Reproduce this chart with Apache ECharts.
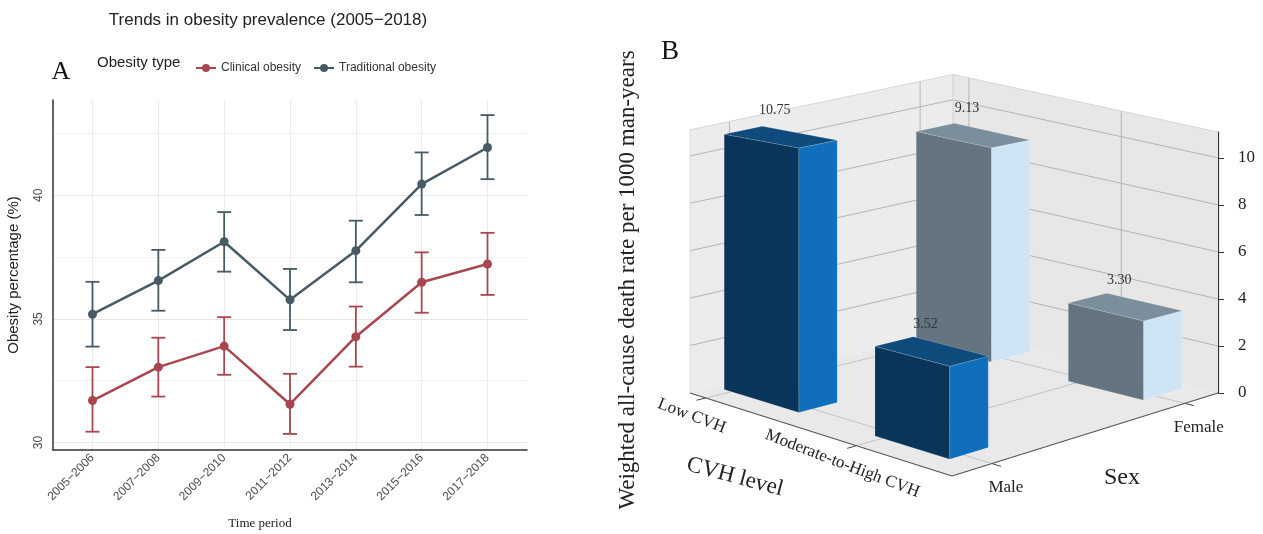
<!DOCTYPE html>
<html>
<head>
<meta charset="utf-8">
<script src="https://cdn.jsdelivr.net/npm/echarts@6/dist/echarts.min.js"></script>
<style>
  html, body { margin: 0; padding: 0; background: #fff; }
  #main { width: 1263px; height: 534px; }
</style>
</head>
<body>
<div id="main"></div>
<script>
// panel A data
var periods = ['2005−2006', '2007−2008', '2009−2010', '2011−2012', '2013−2014', '2015−2016', '2017−2018'];
var clinical = [31.70, 33.05, 33.90, 31.55, 34.28, 36.48, 37.22];
var clinicalLow = [30.44, 31.86, 32.74, 30.35, 33.07, 35.25, 35.97];
var clinicalHigh = [33.05, 34.24, 35.07, 32.78, 35.50, 37.69, 38.48];
var traditional = [35.19, 36.55, 38.12, 35.77, 37.76, 40.45, 41.93];
var traditionalLow = [33.88, 35.33, 36.91, 34.55, 36.48, 39.20, 40.65];
var traditionalHigh = [36.50, 37.79, 39.32, 37.02, 38.97, 41.73, 43.24];
var yTicksA = [30, 35, 40];
var yGridA = [30, 32.5, 35, 37.5, 40, 42.5];

// panel B data
var cvhLevels = ['Low CVH', 'Moderate-to-High CVH'];
var sexes = ['Male', 'Female'];
var deathMale = [10.75, 3.52];
var deathFemale = [9.13, 3.30];
var zTicks = [0, 2, 4, 6, 8, 10];

var chartDom = document.getElementById('main');
var myChart = echarts.init(chartDom);
var option;

var SANS = 'Liberation Sans';
var SERIF = 'Liberation Serif';
var clinicalColor = '#a8474f';
var traditionalColor = '#475b66';

function toPoints(values) {
  return values.map(function (v, i) { return [i, v]; });
}
function toRanges(low, high) {
  return low.map(function (v, i) { return [i, v, high[i]]; });
}

function renderErrorBar(color) {
  return function (params, api) {
    var top = api.coord([api.value(0), api.value(2)]);
    var bottom = api.coord([api.value(0), api.value(1)]);
    var cap = 7;
    var style = { stroke: color, lineWidth: 1.8 };
    return {
      type: 'group',
      children: [
        { type: 'line', shape: { x1: top[0], y1: top[1], x2: bottom[0], y2: bottom[1] }, style: style },
        { type: 'line', shape: { x1: top[0] - cap, y1: top[1], x2: top[0] + cap, y2: top[1] }, style: style },
        { type: 'line', shape: { x1: bottom[0] - cap, y1: bottom[1], x2: bottom[0] + cap, y2: bottom[1] }, style: style }
      ]
    };
  };
}

// fake 3d box for panel B: floor corners in px relative to the z axis origin
var FLOOR = { L: [-528, 0], F: [-266, 83], R: [0, 0], B: [-265, -63] };
var DEPTH_SCALE = { L: 1.0085, F: 1.151, R: 1, B: 0.979 };
var WALL_TOP = 11.1;
var C_TICK0 = 0.12, C_TICK_STEP = 1.15, S_TICK0 = 0.3, S_TICK_STEP = 1.45;
var C_BAR0 = 0.35, C_BAR_STEP = 1.15, S_BAR0 = 0.34, S_BAR_STEP = 1.46;
var BAR_W = 0.57, BAR_D = 0.29;

function makeProjector(api) {
  var origin = api.coord([1, 0]);
  var unit = origin[1] - api.coord([1, 1])[1];
  return function (c, s, v) {
    var u = c / 2, w = s / 2;
    var wL = (1 - u) * (1 - w), wF = u * (1 - w), wR = u * w, wB = (1 - u) * w;
    var x = wL * FLOOR.L[0] + wF * FLOOR.F[0] + wR * FLOOR.R[0] + wB * FLOOR.B[0];
    var y = wL * FLOOR.L[1] + wF * FLOOR.F[1] + wR * FLOOR.R[1] + wB * FLOOR.B[1];
    var k = wL * DEPTH_SCALE.L + wF * DEPTH_SCALE.F + wR * DEPTH_SCALE.R + wB * DEPTH_SCALE.B;
    return [origin[0] + x, origin[1] + y - v * unit * k];
  };
}

function line(p, q, color, width) {
  return { type: 'line', shape: { x1: p[0], y1: p[1], x2: q[0], y2: q[1] }, style: { stroke: color, lineWidth: width || 1 } };
}
function poly(points, fill, stroke) {
  return { type: 'polygon', shape: { points: points }, style: { fill: fill, stroke: stroke || null, lineWidth: 0.6 } };
}

function renderScene(params, api) {
  var P = makeProjector(api);
  var kids = [];
  var gridColor = '#b4b4b4';
  kids.push(poly([P(0, 0, 0), P(2, 0, 0), P(2, 2, 0), P(0, 2, 0)], '#e9e9e9'));
  kids.push(poly([P(0, 0, 0), P(0, 2, 0), P(0, 2, WALL_TOP), P(0, 0, WALL_TOP)], '#ececec'));
  kids.push(poly([P(0, 2, 0), P(2, 2, 0), P(2, 2, WALL_TOP), P(0, 2, WALL_TOP)], '#e7e7e7'));
  zTicks.forEach(function (v) {
    if (v === 0) return;
    kids.push(line(P(0, 0, v), P(0, 2, v), gridColor));
    kids.push(line(P(0, 2, v), P(2, 2, v), gridColor));
  });
  cvhLevels.forEach(function (name, i) {
    var c = C_TICK0 + i * C_TICK_STEP;
    kids.push(line(P(c, 2, 0), P(c, 2, WALL_TOP), gridColor));
    kids.push(line(P(c, 0, 0), P(c, 2, 0), '#c4c4c4'));
    kids.push(line(P(c, 0, 0), P(c, -0.07, 0), '#444', 1));
    var t = P(c, 0, 0);
    kids.push({
      type: 'text', x: t[0] - 14, y: t[1] + 18, rotation: -21 * Math.PI / 180,
      style: { text: name, fill: '#222', font: '17px "' + SERIF + '"', align: 'center', verticalAlign: 'middle' }
    });
  });
  sexes.forEach(function (name, j) {
    var s = S_TICK0 + j * S_TICK_STEP;
    kids.push(line(P(0, s, 0), P(0, s, WALL_TOP), gridColor));
    kids.push(line(P(0, s, 0), P(2, s, 0), '#c4c4c4'));
    kids.push(line(P(2, s, 0), P(2.07, s, 0), '#444', 1));
    var t = P(2, s, 0);
    kids.push({
      type: 'text', x: t[0] + 14, y: t[1] + 24,
      style: { text: name, fill: '#222', font: '17px "' + SERIF + '"', align: 'center', verticalAlign: 'middle' }
    });
  });
  kids.push(line(P(0, 0, WALL_TOP), P(0, 2, WALL_TOP), '#d6d6d6'));
  kids.push(line(P(0, 2, WALL_TOP), P(2, 2, WALL_TOP), '#d6d6d6'));
  kids.push(line(P(0, 2, 0), P(0, 2, WALL_TOP), '#d0d0d0'));
  kids.push(line(P(0, 0, 0), P(0, 0, WALL_TOP), '#dedede'));
  kids.push(line(P(0, 0, 0), P(2, 0, 0), '#555', 1.2));
  kids.push(line(P(2, 0, 0), P(2, 2, 0), '#555', 1.2));
  return { type: 'group', children: kids };
}

var barColors = [
  { front: '#0a355a', side: '#106fbd', top: '#0e4a7c' },
  { front: '#647581', side: '#cfe5f6', top: '#7b8e9b' }
];

function renderBar(params, api) {
  var P = makeProjector(api);
  var ci = api.value(0), si = api.value(1), v = api.value(2);
  var cc = C_BAR0 + ci * C_BAR_STEP, sc = S_BAR0 + si * S_BAR_STEP;
  var c0 = cc - BAR_W / 2, c1 = cc + BAR_W / 2, s0 = sc - BAR_D / 2, s1 = sc + BAR_D / 2;
  var col = barColors[si];
  var edge = 'rgba(255,255,255,0.25)';
  var lab = P(cc, sc, v);
  return {
    type: 'group',
    children: [
      poly([P(c0, s0, 0), P(c1, s0, 0), P(c1, s0, v), P(c0, s0, v)], col.front, edge),
      poly([P(c1, s0, 0), P(c1, s1, 0), P(c1, s1, v), P(c1, s0, v)], col.side, edge),
      poly([P(c0, s0, v), P(c1, s0, v), P(c1, s1, v), P(c0, s1, v)], col.top, edge),
      {
        type: 'text', x: lab[0] - 6, y: lab[1] - 27, z2: 100,
        style: { text: v.toFixed(2), fill: '#333', font: '14px "' + SERIF + '"', align: 'center', verticalAlign: 'middle' }
      }
    ]
  };
}

// back bars first so the front ones cover them
var barData = [];
[deathFemale, deathMale].forEach(function (values) {
  var si = values === deathMale ? 0 : 1;
  values.forEach(function (v, ci) { barData.push([ci, si, v]); });
});

option = {
  animation: false,
  backgroundColor: '#fff',
  legend: {
    data: ['Clinical obesity', 'Traditional obesity'],
    left: 190,
    top: 57,
    itemWidth: 20,
    itemHeight: 10,
    itemGap: 12,
    textStyle: { fontFamily: SANS, fontSize: 12, color: '#333' }
  },
  grid: [
    { left: 53, right: 736, top: 100, bottom: 84 },
    { left: 690, right: 45, top: 132, bottom: 141 }
  ],
  xAxis: [
    {
      type: 'value', gridIndex: 0, min: -0.6, max: 6.6,
      axisLine: { onZero: false, lineStyle: { color: '#333', width: 1.5 } },
      axisTick: { show: false, customValues: [0, 1, 2, 3, 4, 5, 6] },
      axisLabel: {
        customValues: [0, 1, 2, 3, 4, 5, 6],
        formatter: function (v) { return periods[v]; },
        rotate: 45, fontFamily: SANS, fontSize: 12, color: '#4d4d4d', margin: 6
      },
      splitLine: { show: true, lineStyle: { color: '#ebebeb', width: 1 } }
    },
    { type: 'value', gridIndex: 1, min: 0, max: 1, show: false }
  ],
  yAxis: [
    {
      type: 'value', gridIndex: 0, min: 29.7, max: 43.85,
      name: 'Obesity percentage (%)', nameLocation: 'middle', nameGap: 32,
      nameTextStyle: { fontFamily: SANS, fontSize: 15, color: '#222' },
      axisLine: { show: true, onZero: false, lineStyle: { color: '#333', width: 1.5 } },
      axisTick: { show: false, customValues: yGridA },
      axisLabel: { customValues: yTicksA, rotate: 90, fontFamily: SANS, fontSize: 12, color: '#4d4d4d', margin: 8 },
      splitLine: { show: true, lineStyle: { color: ['#e6e6e6', '#f3f3f3'], width: 1 } }
    },
    {
      type: 'value', gridIndex: 1, min: 0, max: WALL_TOP, position: 'right',
      axisLine: { show: true, onZero: false, lineStyle: { color: '#333', width: 1.2 } },
      axisTick: { show: true, length: 6, customValues: zTicks, lineStyle: { color: '#333' } },
      axisLabel: { customValues: zTicks, fontFamily: SERIF, fontSize: 17, color: '#222', margin: 20 },
      splitLine: { show: false }
    }
  ],
  graphic: [
    { type: 'text', x: 268, y: 20, style: { text: 'Trends in obesity prevalence (2005−2018)', font: '17px "' + SANS + '"', fill: '#222', align: 'center', verticalAlign: 'middle' } },
    { type: 'text', x: 97, y: 63, style: { text: 'Obesity type', font: '15px "' + SANS + '"', fill: '#222', align: 'left', verticalAlign: 'middle' } },
    { type: 'text', x: 61, y: 72, style: { text: 'A', font: '26px "' + SERIF + '"', fill: '#111', align: 'center', verticalAlign: 'middle' } },
    { type: 'text', x: 260, y: 524, style: { text: 'Time period', font: '13px "' + SERIF + '"', fill: '#222', align: 'center', verticalAlign: 'middle' } },
    { type: 'text', x: 670, y: 52, style: { text: 'B', font: '27px "' + SERIF + '"', fill: '#111', align: 'center', verticalAlign: 'middle' } },
    { type: 'text', x: 628, y: 280, rotation: Math.PI / 2, style: { text: 'Weighted all-cause death rate per 1000 man-years', font: '23px "' + SERIF + '"', fill: '#222', align: 'center', verticalAlign: 'middle' } },
    { type: 'text', x: 735, y: 477, rotation: -15 * Math.PI / 180, style: { text: 'CVH level', font: '23px "' + SERIF + '"', fill: '#222', align: 'center', verticalAlign: 'middle' } },
    { type: 'text', x: 1122, y: 478, style: { text: 'Sex', font: '24px "' + SERIF + '"', fill: '#222', align: 'center', verticalAlign: 'middle' } }
  ],
  series: [
    {
      name: 'Clinical obesity err', type: 'custom', xAxisIndex: 0, yAxisIndex: 0, z: 2,
      data: toRanges(clinicalLow, clinicalHigh), renderItem: renderErrorBar(clinicalColor)
    },
    {
      name: 'Traditional obesity err', type: 'custom', xAxisIndex: 0, yAxisIndex: 0, z: 2,
      data: toRanges(traditionalLow, traditionalHigh), renderItem: renderErrorBar(traditionalColor)
    },
    {
      name: 'Clinical obesity', type: 'line', xAxisIndex: 0, yAxisIndex: 0, z: 3,
      data: toPoints(clinical), color: clinicalColor,
      symbol: 'circle', symbolSize: 9, lineStyle: { width: 2.5 }
    },
    {
      name: 'Traditional obesity', type: 'line', xAxisIndex: 0, yAxisIndex: 0, z: 3,
      data: toPoints(traditional), color: traditionalColor,
      symbol: 'circle', symbolSize: 9, lineStyle: { width: 2.5 }
    },
    {
      name: 'scene', type: 'custom', xAxisIndex: 1, yAxisIndex: 1, z: 1, clip: false,
      silent: true, data: [[1, 0]], renderItem: renderScene
    },
    {
      name: 'death rate', type: 'custom', xAxisIndex: 1, yAxisIndex: 1, z: 2, clip: false,
      data: barData, renderItem: renderBar
    }
  ]
};

option && myChart.setOption(option);
</script>
</body>
</html>
